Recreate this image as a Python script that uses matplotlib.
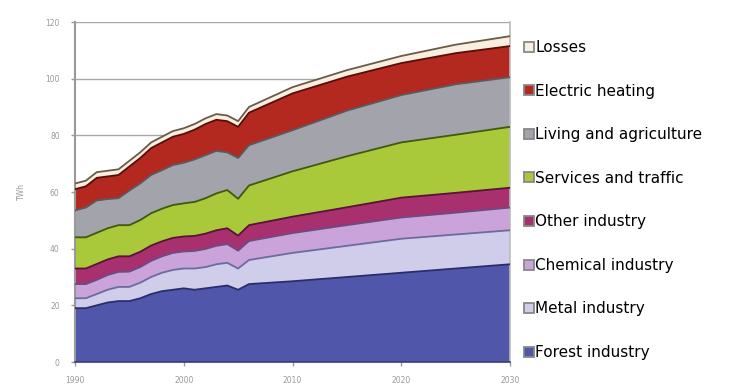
import matplotlib
matplotlib.use("Agg")
import matplotlib.pyplot as plt
from matplotlib.lines import Line2D
import numpy as np

years = [1990, 1991, 1992, 1993, 1994, 1995, 1996, 1997, 1998, 1999, 2000,
         2001, 2002, 2003, 2004, 2005, 2006, 2010, 2015, 2020, 2025, 2030]

forest = [19, 19, 20, 21, 21.5, 21.5, 22.5, 24, 25, 25.5, 26,
          25.5, 26, 26.5, 27, 25.5, 27.5, 28.5, 30, 31.5, 33, 34.5]
metal = [3.5, 3.5, 4, 4.5, 5, 5, 5.5, 6, 6.5, 7, 7,
         7.5, 7.5, 8, 8, 7.5, 8.5, 10, 11, 12, 12, 12]
chemical = [5, 5, 5, 5.2, 5.3, 5.4, 5.5, 5.7, 5.8, 6, 6,
            6.2, 6.4, 6.5, 6.6, 6.3, 6.7, 7, 7.3, 7.5, 7.7, 8]
other = [5.5, 5.5, 5.6, 5.5, 5.5, 5.4, 5.4, 5.4, 5.3, 5.3, 5.3,
         5.3, 5.4, 5.5, 5.6, 5.3, 5.6, 5.8, 6.3, 7, 7, 7]
services = [11, 11, 11, 11, 11, 11, 11.2, 11.4, 11.5, 11.6, 11.7,
            12, 12.5, 13, 13.5, 13, 14, 16, 18, 19.5, 20.5, 21.5]
living = [9.5, 10.5, 11.4, 10.3, 9.5, 12.2, 12.9, 13.5, 13.6, 14.1, 14.3,
          15, 15.2, 15, 13.3, 14.4, 14.2, 14.5, 16.1, 16.7, 17.8, 17.5]
electric = [7.5, 7.5, 8, 8, 8.2, 8.5, 9, 9.5, 9.8, 10, 10.2,
            10.5, 11, 11, 11, 11, 11.5, 13, 12, 11.3, 11, 11]
losses = [2, 2, 2, 2, 2, 2, 2, 2, 2, 2, 2,
          2, 2, 2, 2, 2, 2, 2.2, 2.3, 2.5, 3, 3.5]

series_labels = ["Forest industry", "Metal industry", "Chemical industry", "Other industry",
                 "Services and traffic", "Living and agriculture", "Electric heating", "Losses"]
y_ticks = [0, 20, 40, 60, 80, 100, 120]
x_ticks = [1990, 2000, 2010, 2020, 2030]

fills = ["#5057aa", "#cfcdea", "#c9a3d9", "#a8306e", "#a9c83a", "#a3a3ab", "#b3281f", "#f8efe0"]
edges = ["#2a2d6a", "#6d6aa0", "#6a4d80", "#5a1238", "#3d5a10", "#5a5a60", "#5a0d08", "#6a5a48"]

fig = plt.figure(figsize=(7.34, 3.87), dpi=100)
ax = fig.add_axes([75/734, 1-362/387, 435/734, 340/387])

data = [forest, metal, chemical, other, services, living, electric, losses]
polys = ax.stackplot(years, *data, colors=fills, linewidth=0, zorder=2)
cum = np.cumsum(np.array(data, dtype=float), axis=0)
for i in range(len(data)):
    ax.plot(years, cum[i], color=edges[i], lw=1.3, zorder=3)

ax.set_xlim(1990, 2030)
ax.set_ylim(0, 120)
ax.set_yticks(y_ticks)
ax.set_xticks(x_ticks)
ax.grid(axis="y", color="#a8a8a8", lw=1.0, zorder=1)
ax.set_axisbelow(True)
ax.tick_params(axis="both", labelsize=5.5, colors="#999999", length=3, width=1)
ax.tick_params(axis="y", pad=8)
ax.tick_params(axis="x", pad=7)
ax.set_ylabel("TWh", fontsize=5.5, color="#999999", labelpad=14)
ax.spines["top"].set_visible(False)
ax.spines["left"].set_color("#999999")
ax.spines["left"].set_linewidth(1.5)
ax.spines["right"].set_color("#bbbbbb")
ax.spines["right"].set_linewidth(1.2)
ax.spines["bottom"].set_color("#3a3d70")
ax.spines["bottom"].set_linewidth(1.2)

handles = [Line2D([], [], ls="none", marker="s", markersize=6.5,
                  markerfacecolor=fills[i], markeredgecolor="#888888", markeredgewidth=1.3)
           for i in range(len(data))][::-1]
labels = series_labels[::-1]
fig.legend(handles, labels, loc="upper left", bbox_to_anchor=(524/734, 1-40/387),
           frameon=False, fontsize=11, handlelength=0.7, handletextpad=0.05,
           labelspacing=1.87, borderaxespad=0, borderpad=0)

fig.savefig("out.png", dpi=100)
